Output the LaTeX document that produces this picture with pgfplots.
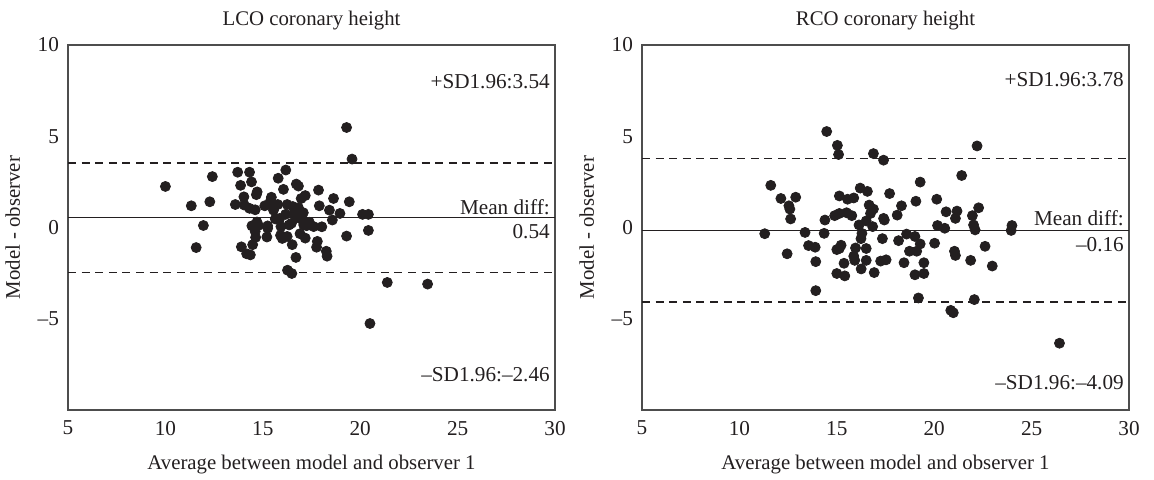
\documentclass[border=0pt]{standalone}
\usepackage{pgfplots}
\pgfplotsset{compat=1.18}
\usepackage{fontspec}
\setmainfont{Liberation Serif}
\definecolor{ink}{HTML}{231F20}
\definecolor{frame}{HTML}{4D4D4D}
\tikzset{ann/.style={anchor=east, inner sep=0pt, text=ink, font=\fontsize{10.6}{12}\selectfont}}
\pgfplotsset{
  ba/.style={
    scale only axis, width=243.5pt, height=182.5pt,
    xmin=5, xmax=30, ymin=-10, ymax=10,
    xtick={5,10,15,20,25,30}, xticklabels={5,10,15,20,25,30},
    ytick={-5,0,5,10}, yticklabels={–5,0,5,10},
    major tick length=0pt,
    axis line style={frame, line width=0.7pt},
    tick label style={font=\fontsize{10.6}{12}\selectfont, text=ink},
    xticklabel style={yshift=-2pt},
    yticklabel style={xshift=-1pt},
    label style={font=\fontsize{10.4}{12}\selectfont, text=ink},
    title style={font=\fontsize{10.4}{12}\selectfont, text=ink, yshift=-2pt},
    xlabel={Average between model and observer 1},
    ylabel={Model - observer},
    xlabel style={yshift=-3pt},
    ylabel style={yshift=2pt},
    clip=false,
  },
  pts/.style={only marks, mark=*, mark size=2.5pt, mark options={draw=ink, fill=ink}},
  meanl/.style={ink, line width=0.7pt, forget plot},
  sdl/.style={ink, line width=0.7pt, dash pattern=on 4pt off 2.8pt, forget plot},
}
\begin{document}
\begin{tikzpicture}
\useasboundingbox (-34pt,-34.5pt) rectangle (543pt,205pt);
\begin{axis}[ba, title={LCO coronary height}]
\addplot[sdl] coordinates {(5,3.54) (30,3.54)};
\addplot[sdl] coordinates {(5,-2.46) (30,-2.46)};
\addplot[meanl] coordinates {(5,0.54) (30,0.54)};
\addplot[pts] coordinates {
(19.30,5.48) (19.58,3.75) (10.00,2.25) (12.41,2.79) (13.71,3.03) (14.32,3.03)
(16.18,3.15) (13.86,2.31) (14.42,2.50) (15.79,2.70) (16.06,2.09) (16.72,2.38)
(16.83,2.27) (17.86,2.05) (14.71,1.95) (14.67,1.80) (14.03,1.68) (15.44,1.66)
(17.18,1.75) (16.97,1.59) (18.63,1.59) (11.33,1.19) (12.28,1.41) (13.59,1.26)
(14.05,1.23) (14.32,1.05) (14.61,0.97) (15.10,1.19) (15.48,1.23) (15.77,1.26)
(16.25,1.26) (16.54,1.15) (16.83,1.08) (17.90,1.19) (19.44,1.41) (18.42,0.95)
(18.96,0.77) (17.08,0.81) (16.17,0.72) (20.12,0.72) (20.42,0.72) (18.57,0.41)
(15.64,0.47) (15.87,0.50) (16.75,0.54) (17.04,0.41) (17.39,0.29) (16.47,0.23)
(16.35,0.14) (11.95,0.11) (14.44,0.09) (14.77,0.11) (15.25,0.09) (15.93,0.05)
(17.10,0.14) (17.61,0.05) (18.03,0.04) (15.25,-0.04) (14.61,-0.22) (14.63,-0.54)
(15.21,-0.52) (15.91,-0.43) (16.25,-0.49) (16.91,-0.34) (17.18,-0.58) (19.30,-0.47)
(20.42,-0.16) (16.51,-0.94) (14.48,-0.94) (13.90,-1.06) (11.58,-1.10) (17.80,-0.76)
(17.76,-1.08) (18.26,-1.30) (18.30,-1.57) (14.17,-1.44) (14.36,-1.50) (16.70,-1.64)
(16.27,-2.34) (16.49,-2.52) (21.39,-3.01) (23.46,-3.10) (20.50,-5.26)
(15.39,1.44) (14.70,0.30) (16.60,0.75) (15.55,0.95) (17.25,0.10) (16.00,-0.60)
};
\node[ann] at (axis cs:29.75,8.0) {+SD1.96:3.54};
\node[ann] at (axis cs:29.75,1.12) {Mean diff:};
\node[ann] at (axis cs:29.75,-0.25) {0.54};
\node[ann] at (axis cs:29.75,-8.05) {–SD1.96:–2.46};
\end{axis}
\begin{axis}[ba, at={(287pt,0pt)}, title={RCO coronary height}]
\addplot[sdl] coordinates {(5,3.78) (30,3.78)};
\addplot[sdl] coordinates {(5,-4.09) (30,-4.09)};
\addplot[meanl] coordinates {(5,-0.16) (30,-0.16)};
\addplot[pts] coordinates {
(14.48,5.26) (15.03,4.50) (15.09,4.00) (16.88,4.05) (17.40,3.69) (22.20,4.47)
(21.41,2.85) (19.28,2.49) (11.61,2.31) (12.13,1.59) (12.89,1.66) (12.54,1.19)
(12.59,1.01) (12.63,0.47) (12.45,-1.44) (11.30,-0.34) (13.37,-0.27) (14.35,-0.32)
(14.39,0.41) (13.55,-0.99) (13.89,-1.08) (13.92,-1.87) (13.92,-3.46) (14.89,0.65)
(15.13,0.77) (15.50,0.81) (15.77,0.65) (15.13,1.73) (15.55,1.55) (15.87,1.62)
(16.20,2.16) (16.57,1.98) (17.71,1.86) (16.66,1.23) (16.88,1.01) (16.73,0.77)
(16.51,0.36) (16.14,0.14) (16.84,0.05) (17.44,0.41) (17.40,0.50) (18.32,1.19)
(18.10,0.68) (19.06,1.44) (20.13,1.55) (20.61,0.86) (21.17,0.90) (21.09,0.50)
(20.17,0.11) (20.54,-0.04) (21.96,0.65) (22.28,1.08) (22.02,0.14) (22.10,-0.13)
(23.99,0.11) (23.95,-0.16) (16.24,-0.61) (16.29,-0.32) (17.34,-0.61) (18.17,-0.72)
(18.58,-0.36) (19.01,-0.49) (19.28,-0.90) (20.02,-0.86) (15.96,-1.12) (15.13,-1.15)
(15.22,-0.97) (15.00,-1.21) (16.51,-1.15) (15.87,-1.57) (15.92,-1.80) (15.37,-1.96)
(16.51,-1.80) (17.25,-1.84) (17.53,-1.77) (18.73,-1.30) (19.10,-1.30) (18.45,-1.93)
(19.47,-1.93) (21.04,-1.30) (21.09,-1.53) (21.87,-1.80) (22.61,-1.03) (22.98,-2.11)
(15.00,-2.52) (15.41,-2.65) (16.25,-2.27) (16.92,-2.47) (19.01,-2.59) (19.47,-2.52)
(19.19,-3.86) (22.06,-3.95) (20.85,-4.54) (20.98,-4.67) (26.43,-6.34)
};
\node[ann] at (axis cs:29.75,8.1) {+SD1.96:3.78};
\node[ann] at (axis cs:29.75,0.52) {Mean diff:};
\node[ann] at (axis cs:29.75,-0.96) {–0.16};
\node[ann] at (axis cs:29.75,-8.5) {–SD1.96:–4.09};
\end{axis}
\end{tikzpicture}
\end{document}
